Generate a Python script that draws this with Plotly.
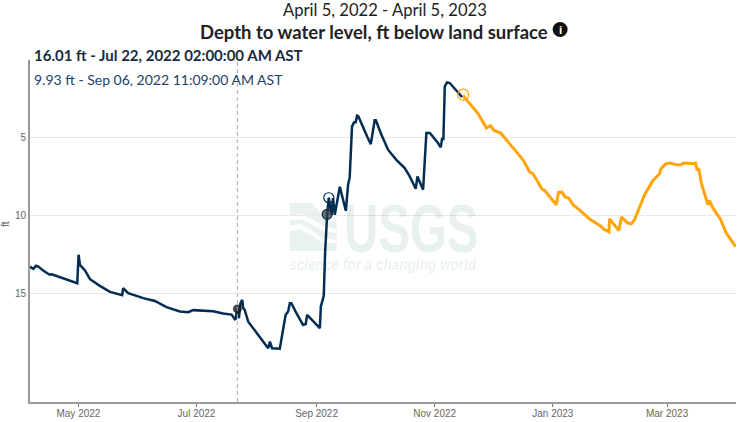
import pandas as pd
import plotly.graph_objects as go

START = pd.Timestamp("2022-04-05")

approved_days = [1.0,2.7,4.1,5.3,7.8,10.9,12.2,25.4,26.1,26.8,29.4,32.0,37.1,42.3,48.6,49.1,51.7,59.5,65.5,71.5,78.4,82.7,85.3,95.6,100.7,105.1,107.1,108.0,108.9,109.7,110.6,111.1,111.9,113.7,124.0,124.9,126.0,130.0,133.0,134.3,135.2,136.0,138.6,142.0,143.4,144.1,150.7,151.2,152.7,153.4,154.46,155.3,156.7,157.5,158.4,161.0,164.1,165.3,166.1,167.3,168.4,169.2,169.9,170.6,175.1,177.0,179.0,179.6,182.5,185.9,190.2,194.5,197.1,200.2,201.1,204.0,205.7,207.5,211.7,213.1,213.8,214.5,215.2,216.4,217.8,224.1]
approved_depth = [13.29,13.44,13.24,13.29,13.54,13.80,13.78,14.36,12.53,13.18,13.54,14.10,14.53,14.92,15.13,14.68,15.00,15.32,15.50,15.90,16.18,16.22,16.09,16.16,16.31,16.38,16.72,16.01,16.61,15.64,15.43,15.95,16.08,16.83,18.54,18.12,18.54,18.57,16.40,16.18,15.64,15.64,16.29,17.04,16.98,16.40,17.25,15.86,15.17,12.42,9.93,8.86,9.96,8.88,9.96,8.15,9.70,7.99,7.57,4.27,4.01,4.01,3.58,3.63,4.92,5.41,3.88,3.88,4.81,5.77,6.42,6.95,7.49,8.28,7.49,8.35,4.70,4.70,5.34,5.62,5.08,5.08,1.70,1.44,1.48,2.38]

provisional_days = [224.6,232.4,236.7,238.9,240.6,244.1,247.0,253.0,255.6,259.1,260.8,265.4,266.8,272.8,273.9,275.7,277.5,279.2,281.8,284.8,290.0,296.0,297.2,300.0,300.3,305.1,306.4,309.8,311.5,313.2,318.4,322.7,326.1,326.7,329.1,331.3,334.8,337.3,338.5,344.2,344.7,345.6,346.3,347.7,351.1,351.9,353.7,357.5,360.6,365.4]
provisional_depth = [2.28,3.45,4.38,4.23,4.53,4.70,5.13,5.99,6.42,7.21,7.32,8.30,8.39,9.31,8.52,8.50,8.82,8.88,9.36,9.64,10.23,10.71,10.88,11.05,10.22,10.97,10.11,10.49,10.54,10.28,8.67,7.75,7.32,7.02,6.69,6.63,6.74,6.72,6.63,6.67,6.63,7.11,6.95,7.92,9.31,9.04,9.53,10.23,11.14,12.00]

tick_dates = ["2022-05-01","2022-07-01","2022-09-01","2022-11-01","2023-01-01","2023-03-01"]
tick_labels = ["May 2022","Jul 2022","Sep 2022","Nov 2022","Jan 2023","Mar 2023"]
y_ticks = [5,10,15]

cursor_date = "2022-07-22 02:00"
cursor_depth = 16.01
compare_date = "2022-09-06 11:09"
compare_depth = 9.93
ring_navy_day, ring_navy_depth = 155.3, 8.86
ring_orange_day, ring_orange_depth = 224.7, 2.23

def to_dates(days):
    return [START + pd.Timedelta(days=d) for d in days]

W, H = 750, 422
L, R, T, B = 30, 13.5, 60, 20
WM = "#e9f2f0"
WM_TEXT = "rgba(0,99,77,0.09)"
NAVY = "#032d52"
ORANGE = "#ffa50a"

def px(x): return (x - L) / (W - L - R)
def py(y): return 1 - (y - T) / (H - T - B)

fig = go.Figure()
fig.add_trace(go.Scatter(x=to_dates(provisional_days), y=provisional_depth, mode="lines",
                         line=dict(color=ORANGE, width=3), showlegend=False))
fig.add_trace(go.Scatter(x=to_dates(approved_days), y=approved_depth, mode="lines",
                         line=dict(color=NAVY, width=2.5), showlegend=False))
fig.add_trace(go.Scatter(x=[cursor_date], y=[cursor_depth], mode="markers",
                         marker=dict(size=9, color="rgba(30,30,30,0.8)"), showlegend=False))
fig.add_trace(go.Scatter(x=[compare_date], y=[compare_depth], mode="markers",
                         marker=dict(size=10, color="rgba(60,60,60,0.75)", line=dict(color=NAVY, width=1.2)), showlegend=False))
fig.add_trace(go.Scatter(x=to_dates([ring_navy_day]), y=[ring_navy_depth], mode="markers",
                         marker=dict(size=10, color="rgba(0,0,0,0)", line=dict(color=NAVY, width=1.2)), showlegend=False))
fig.add_trace(go.Scatter(x=to_dates([ring_orange_day]), y=[ring_orange_depth], mode="markers",
                         marker=dict(size=11, color="rgba(0,0,0,0)", line=dict(color=ORANGE, width=1.2)), showlegend=False))

def paper_path(points):
    return "M" + " L".join(f"{px(x):.5f},{py(y):.5f}" for x, y in points) + " Z"

shapes = [
    dict(type="line", xref="x", yref="paper", x0=cursor_date, x1=cursor_date, y0=0, y1=1,
         line=dict(color="#aaaaaa", width=1, dash="4px,3px"), layer="above"),
    dict(type="rect", xref="paper", yref="paper", x0=px(290), x1=px(337), y0=py(251), y1=py(203),
         fillcolor=WM, line_width=0, layer="below"),
    dict(type="path", xref="paper", yref="paper", layer="below", fillcolor="white", line_width=0,
         path=paper_path([(290,216),(300,214),(312,219),(324,226),(337,229),(337,233),(324,231),(312,224),(300,219),(290,221)])),
    dict(type="path", xref="paper", yref="paper", layer="below", fillcolor="white", line_width=0,
         path=paper_path([(290,226),(300,224),(311,230),(322,238),(337,240),(337,243),(322,243),(311,235),(300,229),(290,231)])),
    dict(type="path", xref="paper", yref="paper", layer="below", fillcolor="white", line_width=0,
         path=paper_path([(312,203),(337,203),(337,222),(326,219)])),
    dict(type="circle", xref="paper", yref="paper", x0=px(553), x1=px(568), y0=py(37), y1=py(22),
         fillcolor="#111111", line_width=0, layer="above"),
]
fig.update_layout(shapes=shapes)

ann = [
    dict(text="April 5, 2022 - April 5, 2023", x=385, y=10, size=16.6, color="#222222", family="Lato"),
    dict(text="<b>Depth to water level, ft below land surface</b>", x=374, y=32, size=18.5, color="#222222", family="Lato"),
    dict(text="<b>i</b>", x=560.5, y=29.5, size=11, color="white"),
    dict(text="<b>16.01 ft - Jul 22, 2022 02:00:00 AM AST</b>", x=32, y=55, size=15, color="#1a2a3c", xanchor="left", family="Lato"),
    dict(text="9.93 ft - Sep 06, 2022 11:09:00 AM AST", x=32, y=79, size=14, color="#1d4366", xanchor="left", family="Lato"),
    dict(text="ft", x=5, y=224, size=10, color="#555555", family="Liberation Sans", textangle=-90),
    dict(text="USGS", x=412, y=228, size=68, color=WM_TEXT, family="Liberation Sans", weight="bold"),
    dict(text="science for a changing world", x=383.5, y=264, size=16.5, color=WM_TEXT, family="Liberation Sans", weight="bold", style="italic"),
]
annotations = []
for a in ann:
    annotations.append(dict(text=a["text"], xref="paper", yref="paper", x=px(a["x"]), y=py(a["y"]),
                            xanchor=a.get("xanchor", "center"), yanchor="middle", showarrow=False,
                            textangle=a.get("textangle", 0),
                            font=dict(size=a["size"], color=a["color"], family=a.get("family", "Noto Sans"),
                                      weight=a.get("weight", "normal"), style=a.get("style", "normal"))))
fig.update_layout(annotations=annotations)

fig.update_layout(
    width=W, height=H, margin=dict(l=L, r=R, t=T, b=B, autoexpand=False),
    plot_bgcolor="white", paper_bgcolor="white", showlegend=False,
    font=dict(family="Liberation Sans", size=10, color="#666666"),
    xaxis=dict(range=[START + pd.Timedelta(days=1), START + pd.Timedelta(days=365.6)],
               tickmode="array", tickvals=tick_dates, ticktext=tick_labels,
               showgrid=False, showline=True, linecolor="#999999", linewidth=2,
               ticks="outside", ticklen=3, tickwidth=1, tickcolor="#777777", ticklabelstandoff=-2,
               tickfont=dict(size=10, color="#666666"), zeroline=False),
    yaxis=dict(range=[22, 0], tickmode="array", tickvals=y_ticks,
               showgrid=True, gridcolor="#e9e9e9", gridwidth=1,
               showline=True, linecolor="#999999", linewidth=2, ticks="",
               tickfont=dict(size=10, color="#666666"), zeroline=False),
)
post = """
document.body.style.margin='0';document.body.style.overflow='hidden';
document.querySelectorAll('text.annotation-text').forEach(function(t){
  var s=t.textContent;
  if(s==='USGS'){t.setAttribute('textLength','134');t.setAttribute('lengthAdjust','spacingAndGlyphs');}
  if(s.indexOf('science for')===0){t.setAttribute('textLength','187');t.setAttribute('lengthAdjust','spacingAndGlyphs');}
});
"""
fig.write_html("out.html", post_script=post, config=dict(displayModeBar=False))
